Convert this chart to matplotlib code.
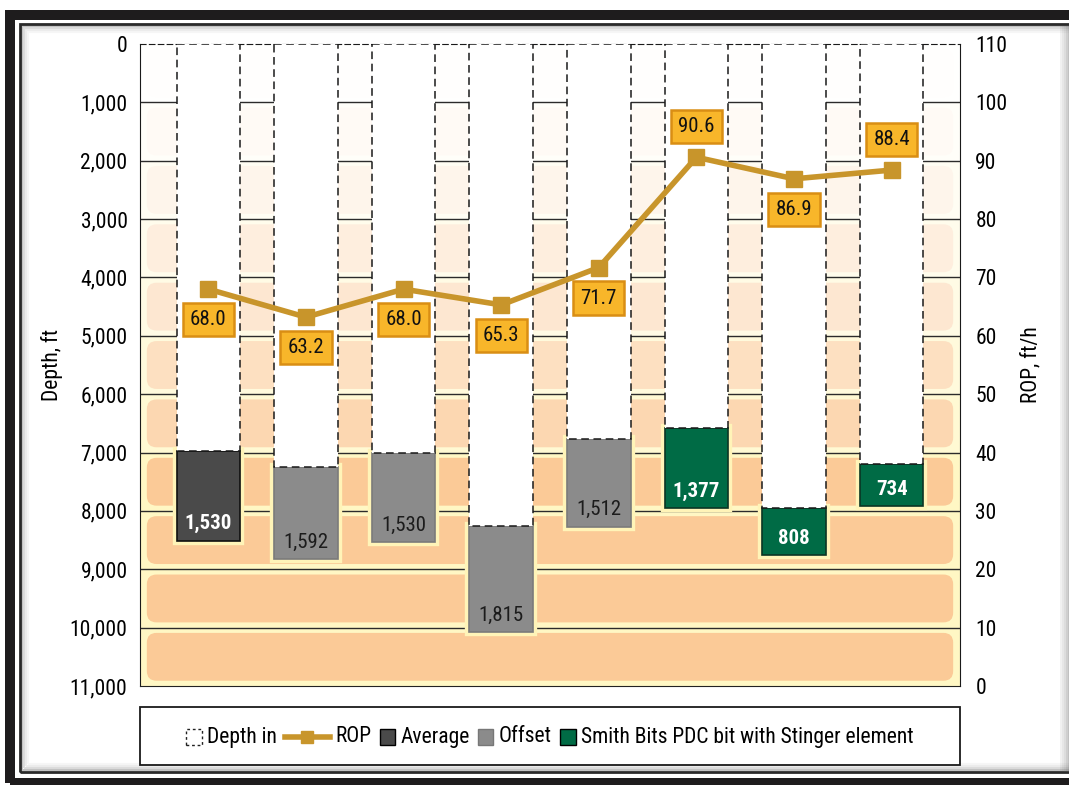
import matplotlib.pyplot as plt
import matplotlib.patheffects as pe
import numpy as np
from matplotlib.colors import to_rgb
from matplotlib.lines import Line2D
from matplotlib.patches import Rectangle, FancyBboxPatch
from matplotlib.ticker import FuncFormatter, MultipleLocator
from matplotlib.offsetbox import DrawingArea, TextArea, HPacker, AnchoredOffsetbox

# well data: depth in (ft), footage drilled (ft), ROP (ft/h)
depth_in = [6980, 7240, 7000, 8260, 6760, 6580, 7950, 7190]
footage = [1530, 1592, 1530, 1815, 1512, 1377, 808, 734]
rop = [68.0, 63.2, 68.0, 65.3, 71.7, 90.6, 86.9, 88.4]
bit_group = ['Average', 'Offset', 'Offset', 'Offset', 'Offset',
             'Stinger', 'Stinger', 'Stinger']
rop_label_side = ['below', 'below', 'below', 'below', 'below',
                  'above', 'below', 'above']

group_fill = {'Average': '#4a4a4a', 'Offset': '#8b8b8b', 'Stinger': '#006b45'}
group_edge = {'Average': '#101010', 'Offset': '#7b7b7b', 'Stinger': '#0a3524'}
group_text = {'Average': 'white', 'Offset': '#1c1c1c', 'Stinger': 'white'}
legend_names = ['Depth in', 'ROP', 'Average', 'Offset',
                'Smith Bits PDC bit with Stinger element']

gold = '#c8952b'
plt.rcParams['font.family'] = ['Roboto Condensed', 'Liberation Sans Narrow',
                               'Roboto', 'DejaVu Sans']

W, H = 1069, 785
fig = plt.figure(figsize=(W / 100, H / 100), dpi=100)
fig.patch.set_facecolor('white')


def fx(px):
    return px / W


def fy(py):
    return 1 - py / H


# picture frame: thick black outer line, thin inner line with soft shadow
fig.add_artist(Rectangle((fx(10), fy(783)), fx(1090 - 10), (783 - 14.5) / H,
                         transform=fig.transFigure, fill=False,
                         ec='#1e1c1d', lw=7.2))
for i, a in enumerate([0.35, 0.2, 0.1, 0.05]):
    fig.add_artist(Rectangle((fx(22 + i * 2), fy(770 - i * 2)),
                             (1090 - 22) / W, (770 - 26 - i * 4) / H,
                             transform=fig.transFigure, fill=False,
                             ec='#555555', lw=1.5, alpha=a))
fig.add_artist(Rectangle((fx(20), fy(772)), (1090 - 20) / W, (772 - 24) / H,
                         transform=fig.transFigure, fill=False,
                         ec='#2a2a2a', lw=2))
# shadow along the right edge
for i, a in enumerate([0.08, 0.14, 0.2, 0.28, 0.36]):
    fig.add_artist(Rectangle((fx(1060 + i * 2), fy(772)), 2 / W, (772 - 26) / H,
                             transform=fig.transFigure, fc='#555555',
                             ec='none', alpha=a))

ax = fig.add_axes([fx(140), fy(686), 820 / W, 642 / H])
x_lo, x_hi = -0.7, 7.7
ax.set_xlim(x_lo, x_hi)
ax.set_ylim(11000, 0)

# banded background fading from white at the surface to orange at depth
orange = np.array(to_rgb('#fbca97'))
glow = np.array(to_rgb('#fff7c4'))
white = np.ones(3)
for k in range(11):
    f = 1.0 if k >= 7 else ((k + 0.5) / 8) ** 1.4
    ax.add_patch(Rectangle((x_lo, k * 1000), x_hi - x_lo, 1000,
                           fc=white + (glow - white) * f, ec='none', zorder=0))
    ax.add_patch(FancyBboxPatch((x_lo + 0.07, k * 1000 + 90),
                                x_hi - x_lo - 0.14, 1000 - 180,
                                boxstyle='round,pad=0,rounding_size=0.1',
                                mutation_aspect=1670,
                                fc=white + (orange - white) * f, ec='none',
                                zorder=0.5))
for d in range(1000, 11000, 1000):
    ax.axhline(d, color='#2b2b2b', lw=1, zorder=1)

x = np.arange(len(depth_in))
depth_out = [d + f for d, f in zip(depth_in, footage)]
for i in x:
    g = bit_group[i]
    ax.bar(i, footage[i], bottom=depth_in[i], width=0.65,
           color=group_fill[g], edgecolor=group_edge[g], lw=1.2, zorder=2,
           path_effects=[pe.withStroke(linewidth=6, foreground='#fff4b8')])
    ax.bar(i, depth_in[i], bottom=0, width=0.65, color='white',
           edgecolor='#1a1a1a', ls=(0, (5, 3)), lw=1.1, zorder=3)
    ax.text(i, depth_out[i] - 290, f'{footage[i]:,}', ha='center',
            va='center', fontsize=15, color=group_text[g], zorder=4,
            fontweight='bold' if g != 'Offset' else 'normal')

ax.yaxis.set_major_locator(MultipleLocator(1000))
ax.yaxis.set_major_formatter(FuncFormatter(lambda v, p: f'{int(v):,}'))
ax.set_xticks([])
ax.tick_params(axis='y', length=0, labelsize=15.5, pad=9)
ax.set_ylabel('Depth, ft', fontsize=15.5)
ax.yaxis.set_label_coords(-0.094, 0.5)
ax.spines['top'].set_linestyle((0, (5, 3)))
ax.spines['top'].set_color('#1a1a1a')
ax.spines['right'].set_visible(False)
ax.spines['left'].set_color('#1a1a1a')
ax.spines['bottom'].set_color('#222222')

# ROP on the secondary axis
ax2 = ax.twinx()
ax2.set_ylim(0, 110)
ax2.yaxis.set_major_locator(MultipleLocator(10))
ax2.tick_params(axis='y', length=0, labelsize=15.5, pad=11)
ax2.set_ylabel('ROP, ft/h', fontsize=15.5)
ax2.yaxis.set_label_coords(1.074, 0.5)
for s in ['top', 'bottom', 'left']:
    ax2.spines[s].set_visible(False)
ax2.spines['right'].set_color('#1a1a1a')
ax2.plot(x, rop, color=gold, lw=4, marker='s', ms=11, zorder=5)
for i, v in enumerate(rop):
    dy = 22 if rop_label_side[i] == 'above' else -22
    ax2.annotate(f'{v:.1f}', (i, v), xytext=(0, dy),
                 textcoords='offset points', ha='center', va='center',
                 fontsize=15, color='#111111', zorder=6,
                 bbox=dict(boxstyle='square,pad=0.35', fc='#f8b62a',
                           ec='#d98e14', lw=1.8))

# legend strip
fig.add_artist(Rectangle((fx(140), fy(765)), 820 / W, 58 / H,
                         transform=fig.transFigure, fc='white',
                         ec='#1a1a1a', lw=1.3))


def swatch(fc, ec, ls='-'):
    da = DrawingArea(11, 12, 0, 0)
    da.add_artist(Rectangle((0, 0), 11, 12, fc=fc, ec=ec, ls=ls, lw=1))
    return da


rop_handle = DrawingArea(32, 12, 0, 0)
rop_handle.add_artist(Line2D([0, 32], [6, 6], color=gold, lw=4))
rop_handle.add_artist(Line2D([16], [6], color=gold, marker='s', ms=9))

handles = [swatch('white', '#222222', (0, (2, 2))), rop_handle,
           swatch(group_fill['Average'], '#000000'),
           swatch(group_fill['Offset'], '#777777'),
           swatch(group_fill['Stinger'], '#000000')]
items = [HPacker(children=[h, TextArea(t, textprops=dict(fontsize=15.5))],
                 align='center', pad=0, sep=4)
         for h, t in zip(handles, legend_names)]
legend_row = HPacker(children=items, align='center', pad=0, sep=6)
fig.add_artist(AnchoredOffsetbox(loc='center', child=legend_row,
                                 bbox_to_anchor=(fx(550), fy(737)),
                                 bbox_transform=fig.transFigure,
                                 frameon=False))

fig.savefig('out.png', dpi=100)
